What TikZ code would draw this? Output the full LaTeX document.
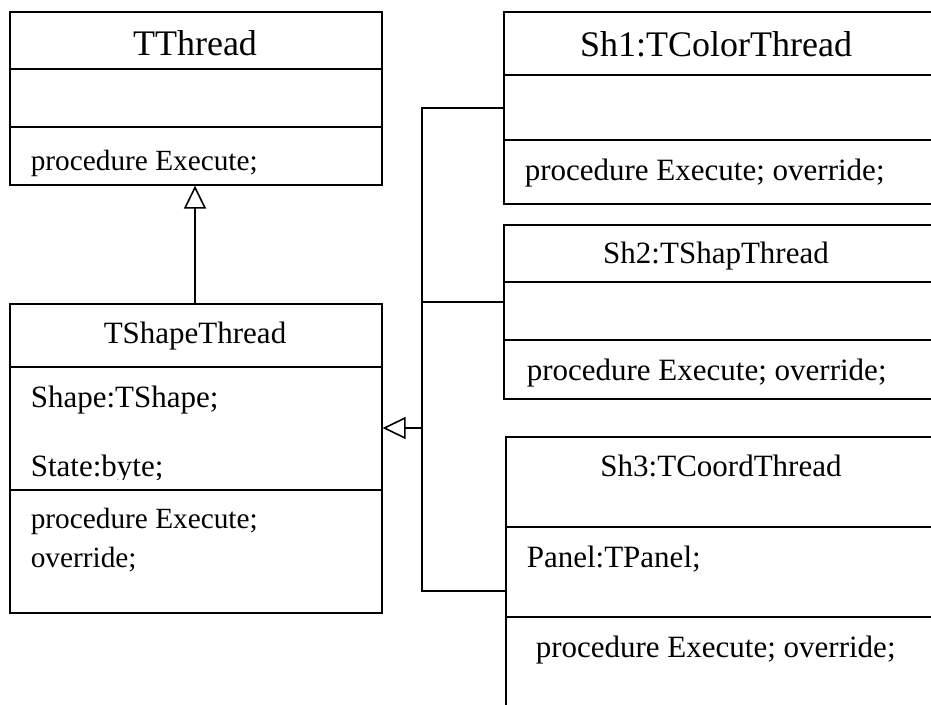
\documentclass[tikz,border=0pt]{standalone}
\usepackage{fontspec}
\setmainfont{Liberation Serif}
\usetikzlibrary{arrows.meta}
\begin{document}
\begin{tikzpicture}[x=1pt,y=-1pt,line width=1.6pt,
  frame/.style={draw,rectangle,inner sep=0pt,anchor=north west},
  big/.style={font=\fontsize{36}{40}\selectfont,anchor=base,inner sep=0pt},
  mid/.style={font=\fontsize{31}{36}\selectfont,anchor=base,inner sep=0pt},
  midl/.style={font=\fontsize{31}{36}\selectfont,anchor=base west,inner sep=0pt},
  sml/.style={font=\fontsize{29.3}{34}\selectfont,anchor=base west,inner sep=0pt},
  inherit/.style={-{Triangle[open,length=23pt,width=22pt,line width=1.6pt]}}]
\useasboundingbox (0,0) rectangle (931,704);
\clip (0,0) rectangle (931,704);
% TThread
\node[frame,minimum width=372pt,minimum height=173pt] (tthread) at (9,11) {};
\draw (9,69) -- (381,69);
\draw (9,127) -- (381,127);
\node[big] (tthreadT) at (195,55) {TThread};
\node[sml] (tthreadM) at (30,170) {procedure Execute;};
% TShapeThread
\node[frame,minimum width=372pt,minimum height=309pt] (tshape) at (9,303) {};
\draw (9,367) -- (381,367);
\draw (9,490) -- (381,490);
\node[mid] (tshapeT) at (195,343) {TShapeThread};
\node[midl] (tshapeA1) at (30,407) {Shape:TShape;};
\begin{scope}
\clip (9,367) rectangle (381,479);
\node[midl] (tshapeA2) at (30,476) {State:byte;};
\end{scope}
\node[sml] (tshapeM1) at (30,528) {procedure Execute;};
\node[sml] (tshapeM2) at (30,567) {override;};
% Sh1
\node[frame,minimum width=440pt,minimum height=192pt] (sh1) at (503,11) {};
\draw (503,75) -- (943,75);
\draw (503,140) -- (943,140);
\node[big] (sh1T) at (716,56) {Sh1:TColorThread};
\node[midl] (sh1M) at (524,180) {procedure Execute; override;};
% Sh2
\node[frame,minimum width=440pt,minimum height=174pt] (sh2) at (503,224) {};
\draw (503,282) -- (943,282);
\draw (503,340) -- (943,340);
\node[mid] (sh2T) at (716,263) {Sh2:TShapThread};
\node[midl] (sh2M) at (526,380) {procedure Execute; override;};
% Sh3
\node[frame,minimum width=440pt,minimum height=300pt] (sh3) at (505,436) {};
\draw (505,527) -- (945,527);
\draw (505,617) -- (945,617);
\node[mid] (sh3T) at (721,476) {Sh3:TCoordThread};
\node[midl] (sh3A) at (526,567) {Panel:TPanel;};
\node[midl] (sh3M) at (535,657) {procedure Execute; override;};
% connectors
\draw[inherit] (tshape.north -| 195,0) -- (tthread.south -| 195,0);
\coordinate (b1) at (422,108);
\coordinate (b2) at (422,302);
\coordinate (b3) at (422,591);
\coordinate (bj) at (422,428);
\draw (sh1.west |- b1) -- (b1) -- (b3) -- (sh3.west |- b3);
\draw (b2) -- (sh2.west |- b2);
\draw[inherit] (bj) -- (tshape.east |- bj);
\end{tikzpicture}
\end{document}
